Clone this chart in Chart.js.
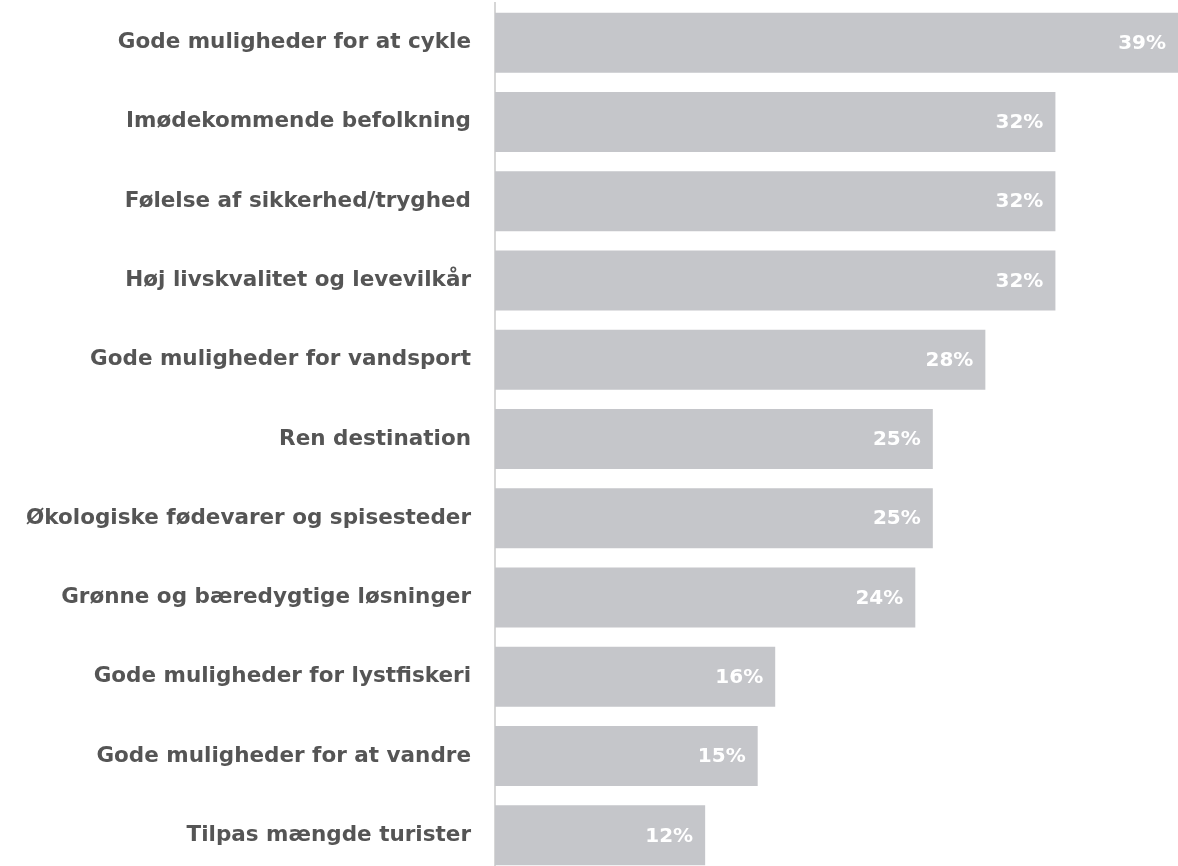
<!DOCTYPE html>
<html>
<head>
<meta charset="utf-8">
<script src="https://cdn.jsdelivr.net/npm/chart.js@4/dist/chart.umd.min.js"></script>
<style>
  html, body { margin: 0; padding: 0; background: #fff; overflow: hidden; }
  #wrap { position: relative; width: 1178px; height: 875px; }
</style>
</head>
<body>
<div id="wrap"><canvas id="myChart"></canvas></div>
<script>
var categories = [
  'Gode muligheder for at cykle',
  'Imødekommende befolkning',
  'Følelse af sikkerhed/tryghed',
  'Høj livskvalitet og levevilkår',
  'Gode muligheder for vandsport',
  'Ren destination',
  'Økologiske fødevarer og spisesteder',
  'Grønne og bæredygtige løsninger',
  'Gode muligheder for lystfiskeri',
  'Gode muligheder for at vandre',
  'Tilpas mængde turister'
];
var shares = [39, 32, 32, 32, 28, 25, 25, 24, 16, 15, 12];

var labelFont = '"DejaVu Sans", sans-serif';

// white value labels at the end of each bar
var valueLabels = {
  id: 'valueLabels',
  afterDatasetsDraw: function (chart) {
    var ctx = chart.ctx;
    var meta = chart.getDatasetMeta(0);
    ctx.save();
    ctx.fillStyle = '#ffffff';
    ctx.font = 'bold 20px ' + labelFont;
    ctx.textAlign = 'right';
    ctx.textBaseline = 'middle';
    meta.data.forEach(function (bar, i) {
      ctx.fillText(shares[i] + '%', bar.x - 12, bar.y + 1);
    });
    ctx.restore();
  }
};

var myChart = new Chart(document.getElementById('myChart'), {
  type: 'bar',
  data: {
    labels: categories,
    datasets: [{
      data: shares,
      backgroundColor: '#c5c6ca',
      borderWidth: 0,
      barPercentage: 0.757,
      categoryPercentage: 1
    }]
  },
  options: {
    indexAxis: 'y',
    responsive: true,
    maintainAspectRatio: false,
    animation: false,
    layout: { padding: { top: 3, right: 0, bottom: 0, left: 0 } },
    plugins: {
      legend: { display: false },
      tooltip: { enabled: false }
    },
    scales: {
      x: {
        display: false,
        min: 0,
        max: 39
      },
      y: {
        afterFit: function (scale) {
          scale.width = 495;
          scale.paddingTop = 0;
          scale.paddingBottom = 0;
        },
        grid: { display: false },
        border: { display: true, color: '#d6d6d6', width: 2 },
        ticks: {
          color: '#555555',
          padding: 16,
          font: { family: labelFont, size: 21.5, weight: 'bold' }
        }
      }
    }
  },
  plugins: [valueLabels]
});
</script>
</body>
</html>
